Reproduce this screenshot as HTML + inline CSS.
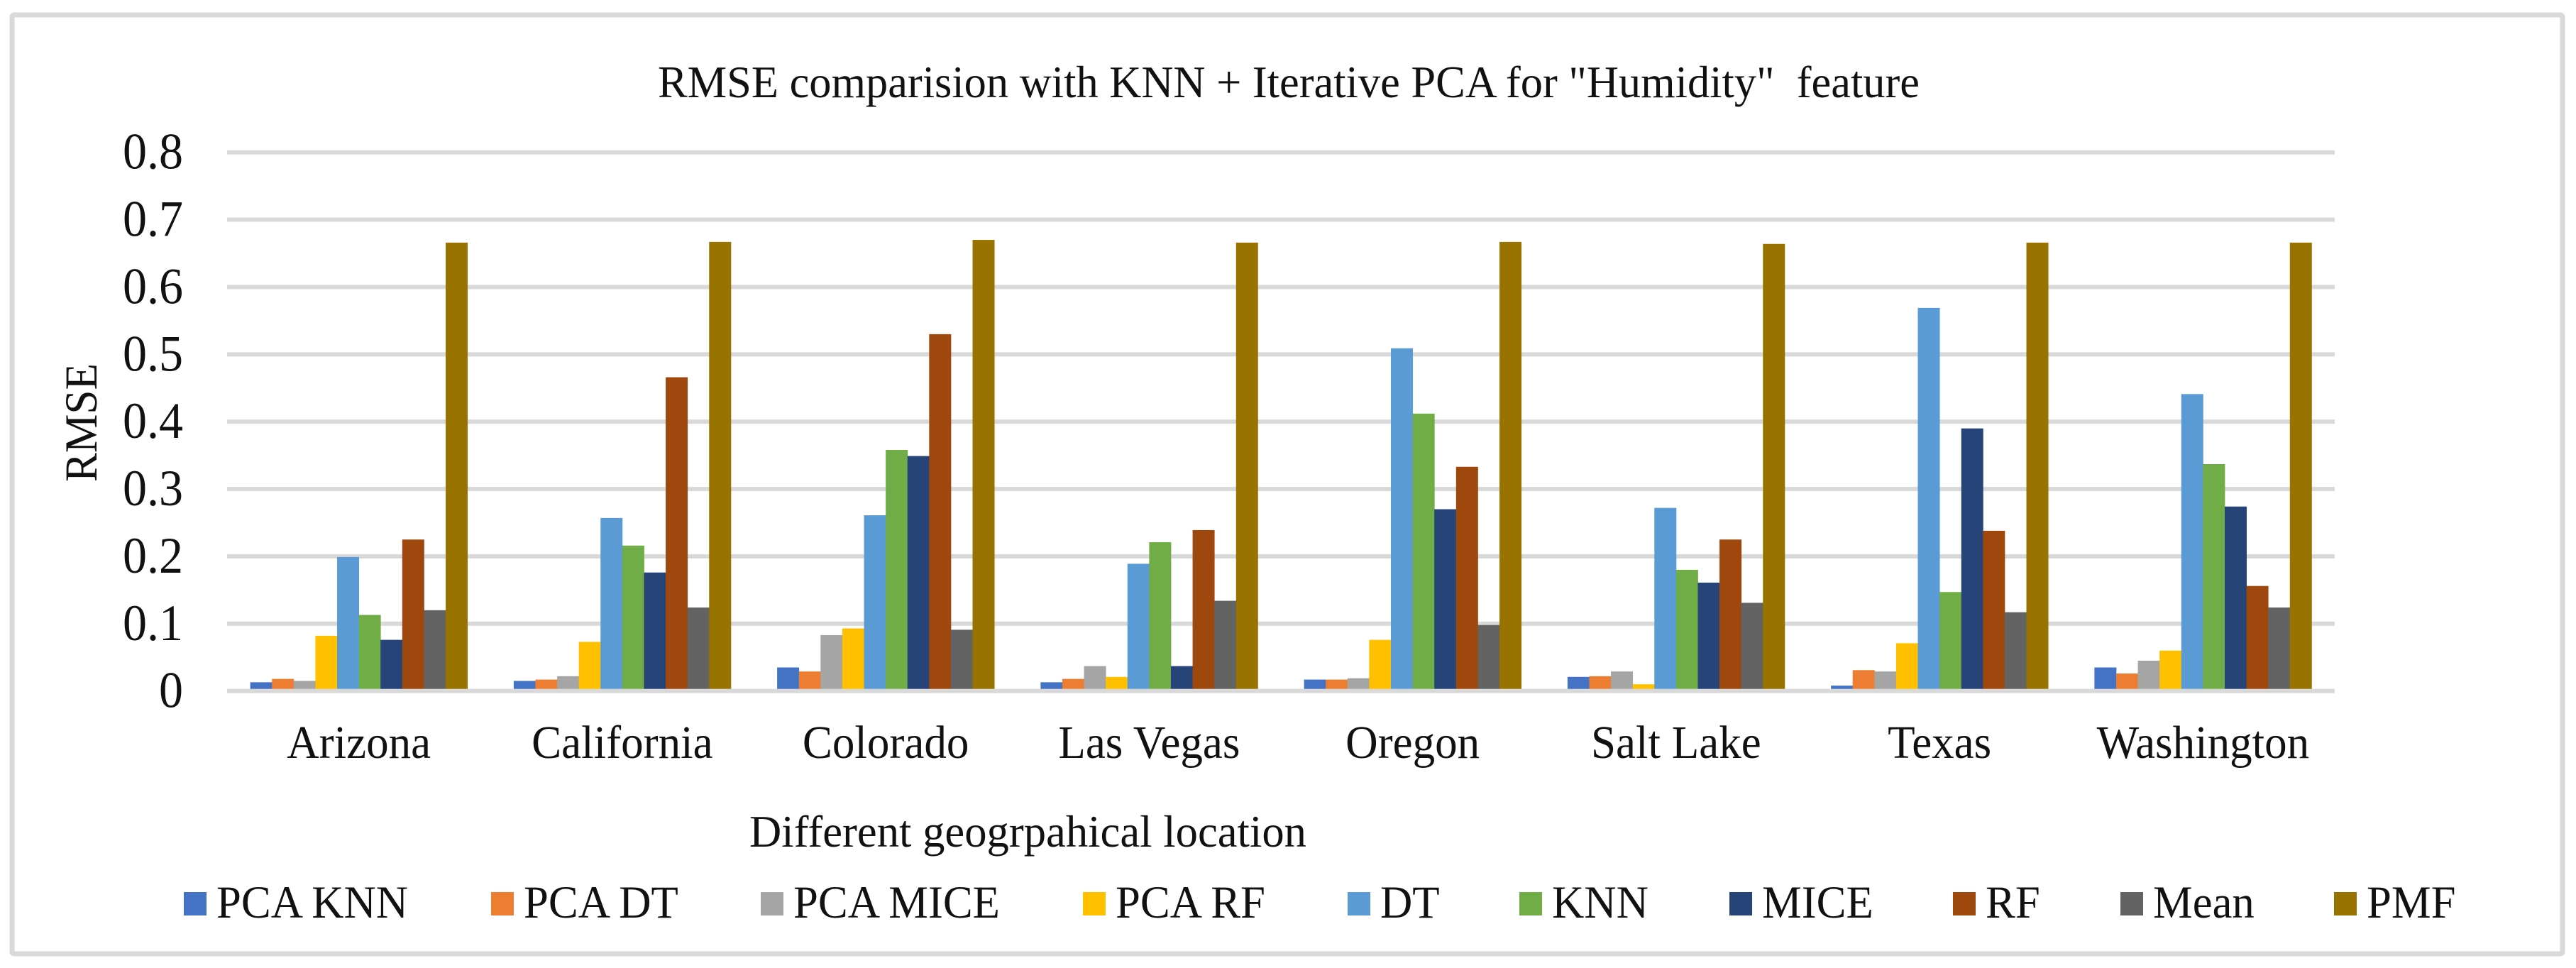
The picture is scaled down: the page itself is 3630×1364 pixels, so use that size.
<!DOCTYPE html>
<html lang="en">
<head>
<meta charset="utf-8">
<title>RMSE comparison chart</title>
<style>
html,body{margin:0;padding:0;background:#fff;}
svg{display:block;}
text{font-family:"Liberation Serif",serif;fill:#111;}
</style>
</head>
<body>
<svg id="chart" xmlns="http://www.w3.org/2000/svg" width="3630" height="1364" viewBox="0 0 3630 1364">
  <rect x="0" y="0" width="3630" height="1364" fill="#ffffff"/>
  <rect x="17" y="21" width="3594" height="1323" rx="3" fill="#ffffff" stroke="#d9d9d9" stroke-width="7"/>
  <text x="927" y="137" font-size="63" textLength="1778" lengthAdjust="spacingAndGlyphs" xml:space="preserve">RMSE comparision with KNN + Iterative PCA for "Humidity"  feature</text>
  <text transform="translate(136,679) rotate(-90)" font-size="65" textLength="167" lengthAdjust="spacingAndGlyphs">RMSE</text>
  <text x="1056" y="1193" font-size="63" textLength="785" lengthAdjust="spacingAndGlyphs">Different geogrpahical location</text>
  <g id="grid"></g>
  <g id="yticks"></g>
  <g id="bars"></g>
  <g id="axis"></g>
  <g id="xticks"></g>
  <g id="legend"></g>
</svg>
<script>
const categories = ["Arizona","California","Colorado","Las Vegas","Oregon","Salt Lake","Texas","Washington"];
const yTicks = [0,0.1,0.2,0.3,0.4,0.5,0.6,0.7,0.8];
const seriesNames = ["PCA KNN","PCA DT","PCA MICE","PCA RF","DT","KNN","MICE","RF","Mean","PMF"];
const seriesColors = ["#4472c4","#ed7d31","#a5a5a5","#ffc000","#5b9bd5","#70ad47","#264478","#9e480e","#636363","#997300"];
const pcaKnn  = [0.013,0.015,0.035,0.013,0.017,0.021,0.008,0.035];
const pcaDt   = [0.018,0.017,0.029,0.018,0.017,0.022,0.031,0.026];
const pcaMice = [0.015,0.022,0.083,0.037,0.019,0.029,0.029,0.045];
const pcaRf   = [0.082,0.073,0.093,0.021,0.076,0.010,0.071,0.060];
const dt      = [0.199,0.257,0.261,0.189,0.509,0.272,0.569,0.441];
const knn     = [0.113,0.216,0.358,0.221,0.412,0.180,0.147,0.337];
const mice    = [0.076,0.176,0.349,0.037,0.270,0.161,0.390,0.274];
const rf      = [0.225,0.466,0.530,0.239,0.333,0.225,0.238,0.156];
const meanVal = [0.120,0.124,0.091,0.134,0.098,0.131,0.117,0.124];
const pmf     = [0.666,0.667,0.670,0.666,0.667,0.664,0.666,0.666];
const allSeries = [pcaKnn,pcaDt,pcaMice,pcaRf,dt,knn,mice,rf,meanVal,pmf];

const NS = "http://www.w3.org/2000/svg";
const plotLeft = 320, plotRight = 3290, yZero = 973.7, yTop = 214.7, yMax = 0.8;
const groupW = (plotRight - plotLeft) / categories.length;
const barW = 30.6;
function yScale(v){ return yZero - (v / yMax) * (yZero - yTop); }
function xGroup(i){ return plotLeft + groupW * (i + 0.5); }
function make(tag, attrs, parent){
  const el = document.createElementNS(NS, tag);
  for (const k in attrs) el.setAttribute(k, attrs[k]);
  parent.appendChild(el);
  return el;
}
const gridG = document.getElementById("grid");
const yTickG = document.getElementById("yticks");
yTicks.forEach(function(t){
  if (t !== 0) {
    const line = make("rect", {x:plotLeft, y:yScale(t)-3, width:plotRight-plotLeft, height:6, fill:"#d9d9d9"}, gridG);
    
    
  }
  const lab = make("text", {transform:"translate(258,"+(yScale(t)+23)+") scale(0.945,1)", "text-anchor":"end", "font-size":72}, yTickG);
  
  
  lab.textContent = String(t);
});
const barsG = document.getElementById("bars");
categories.forEach(function(cat, i){
  const start = xGroup(i) - barW * allSeries.length / 2;
  allSeries.forEach(function(vals, s){
    const top = yScale(vals[i]);
    const bar = make("rect", {x:start + s*barW, y:top, width:barW+0.4, height:yZero-top, fill:seriesColors[s]}, barsG);
    
    
  });
});
const axisG = document.getElementById("axis");
const axisLine = make("rect", {x:plotLeft, y:yZero-3, width:plotRight-plotLeft, height:6, fill:"#d9d9d9"}, axisG);


const xTickG = document.getElementById("xticks");
categories.forEach(function(cat, i){
  const lab = make("text", {transform:"translate("+xGroup(i)+",1068) scale(0.955,1)", "text-anchor":"middle", "font-size":66}, xTickG);
  
  
  lab.textContent = cat;
});
const legendOffsets = [259,692,1072,1526,1899,2141,2437,2752,2988,3289];
const legendG = document.getElementById("legend");
seriesNames.forEach(function(name, s){
  const sw = make("rect", {x:legendOffsets[s], y:1257, width:32, height:33, fill:seriesColors[s]}, legendG);
  
  
  const lab = make("text", {transform:"translate("+(legendOffsets[s]+46)+",1293) scale(0.965,1)", "font-size":65}, legendG);
  
  
  lab.textContent = name;
});
</script>
</body>
</html>
